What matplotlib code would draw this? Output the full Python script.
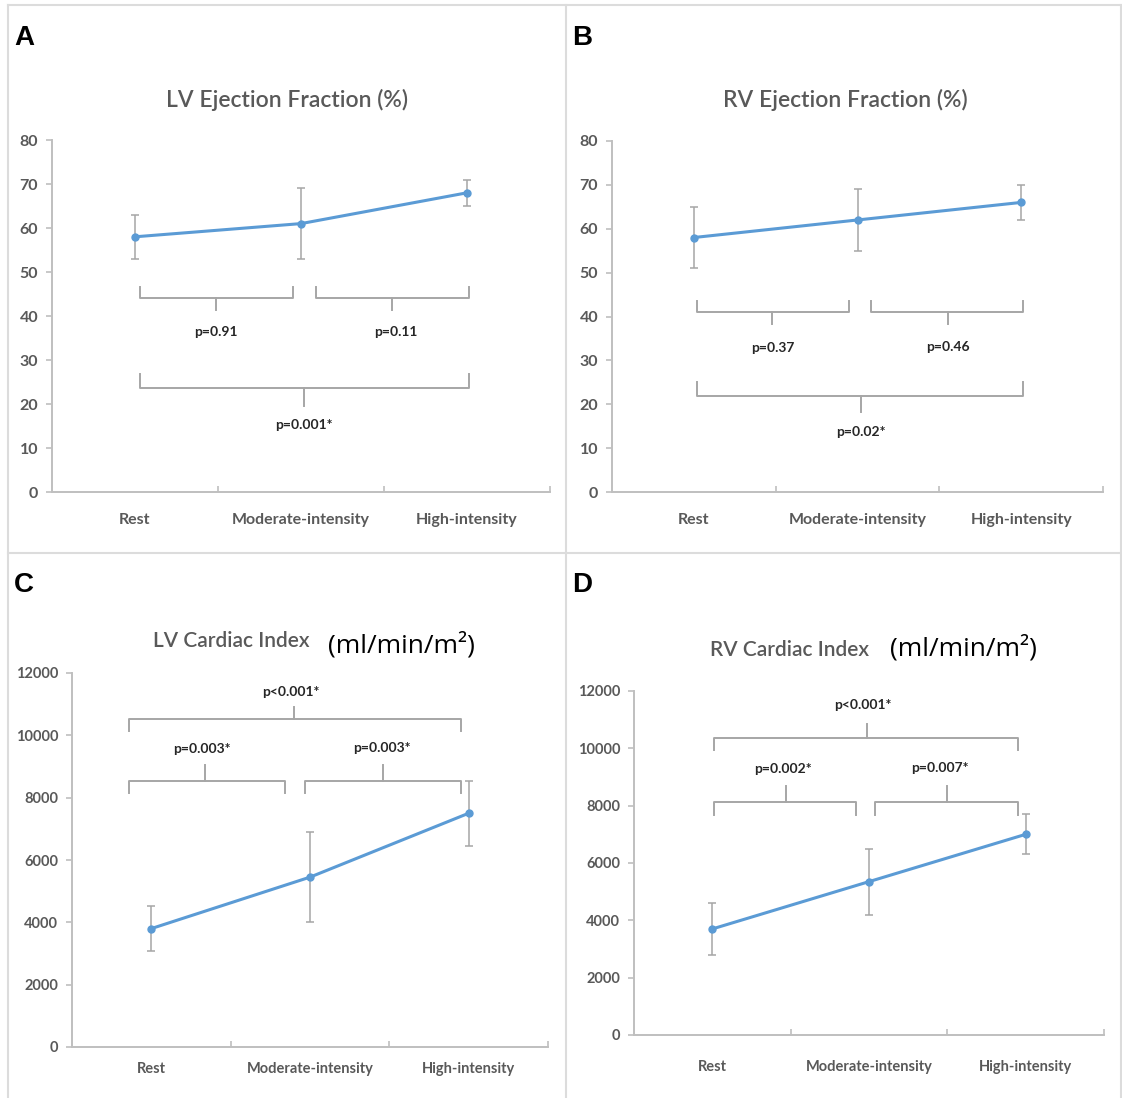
import matplotlib
matplotlib.use("Agg")
import matplotlib.pyplot as plt
from matplotlib import font_manager
from matplotlib.lines import Line2D

# font like Calibri: narrow if available, else Lato
names = set(f.name for f in font_manager.fontManager.ttflist)
GRAY_FONT = "Liberation Sans Narrow" if "Liberation Sans Narrow" in names else "Lato"

W, H = 1122, 1098

categories = ["Rest", "Moderate-intensity", "High-intensity"]

lv_ef = [58, 61, 68]
lv_ef_sd = [5, 8, 3]
rv_ef = [58, 62, 66]
rv_ef_sd = [7, 7, 4]
lv_ci = [3800, 5450, 7500]
lv_ci_sd = [720, 1450, 1050]
rv_ci = [3700, 5350, 7000]
rv_ci_sd = [900, 1150, 700]

# brackets: x0, x1, stem x, arm end y, line y, stem end y, label, label x, label y
lv_ef_brackets = [
    (0.53, 1.45, 0.99, 46.6, 44.2, 41.3, "p=0.91", 0.99, 36.3),
    (1.59, 2.51, 2.05, 46.6, 44.2, 41.3, "p=0.11", 2.07, 36.3),
    (0.53, 2.51, 1.52, 26.8, 23.6, 19.6, "p=0.001*", 1.52, 15.3),
]
rv_ef_brackets = [
    (0.52, 1.45, 0.98, 43.5, 41.0, 38.3, "p=0.37", 0.98, 32.8),
    (1.58, 2.51, 2.05, 43.5, 41.0, 38.3, "p=0.46", 2.05, 33.0),
    (0.52, 2.51, 1.52, 25.0, 21.8, 18.2, "p=0.02*", 1.52, 13.6),
]
lv_ci_brackets = [
    (0.36, 2.45, 1.40, 10150, 10540, 10920, "p<0.001*", 1.38, 11400),
    (0.36, 1.34, 0.84, 8140, 8520, 9040, "p=0.003*", 0.82, 9570),
    (1.47, 2.45, 1.96, 8140, 8520, 9040, "p=0.003*", 1.95, 9600),
]
rv_ci_brackets = [
    (0.51, 2.45, 1.49, 9940, 10370, 10860, "p<0.001*", 1.46, 11500),
    (0.51, 1.42, 0.97, 7660, 8140, 8680, "p=0.002*", 0.95, 9280),
    (1.54, 2.45, 2.00, 7660, 8140, 8680, "p=0.007*", 1.95, 9300),
]

# panels in pixel boxes: left, right, top, bottom of the plot area
panels = [
    dict(box=(52, 550, 140, 492), vals=lv_ef, sd=lv_ef_sd, ymax=80, step=10,
         brackets=lv_ef_brackets, letter="A", letter_xy=(14, 38),
         title="LV Ejection Fraction (%)", title_xy=(287, 100), title_size=16.5,
         unit_xy=None, tick_size=11.5, cat_pad=15),
    dict(box=(612, 1103, 141, 492), vals=rv_ef, sd=rv_ef_sd, ymax=80, step=10,
         brackets=rv_ef_brackets, letter="B", letter_xy=(572, 38),
         title="RV Ejection Fraction (%)", title_xy=(845, 100), title_size=16.5,
         unit_xy=None, tick_size=11.5, cat_pad=15),
    dict(box=(72, 548, 673, 1047), vals=lv_ci, sd=lv_ci_sd, ymax=12000, step=2000,
         brackets=lv_ci_brackets, letter="C", letter_xy=(14, 585),
         title="LV Cardiac Index", title_xy=(231, 641), title_size=15,
         unit_xy=(401, 645), tick_size=10.5, cat_pad=11),
    dict(box=(634, 1104, 691, 1035), vals=rv_ci, sd=rv_ci_sd, ymax=12000, step=2000,
         brackets=rv_ci_brackets, letter="D", letter_xy=(572, 585),
         title="RV Cardiac Index", title_xy=(790, 650), title_size=15,
         unit_xy=(963, 648), tick_size=10.5, cat_pad=18),
]

AXIS_COL = "#bfbfbf"
TEXT_COL = "#595959"
LINE_COL = "#5b9bd5"


def fx(x):
    return x / W


def fy(y):
    return 1 - y / H


fig = plt.figure(figsize=(W / 100, H / 100), dpi=100)
fig.patch.set_facecolor("white")

# panel frame lines
frame = [
    ((8, 1121), (5, 5)),
    ((8, 8), (5, 1098)),
    ((566, 566), (5, 1098)),
    ((1121, 1121), (5, 1098)),
    ((8, 1121), (553, 553)),
]
for xs, ys in frame:
    fig.add_artist(Line2D([fx(xs[0]), fx(xs[1])], [fy(ys[0]), fy(ys[1])],
                          color="#dcdcdc", lw=1.5, transform=fig.transFigure))

for p in panels:
    l, r, t, b = p["box"]
    ax = fig.add_axes([fx(l), fy(b), (r - l) / W, (b - t) / H])
    xs = [i + 0.5 for i in range(len(categories))]
    ax.errorbar(xs, p["vals"], yerr=p["sd"], color=LINE_COL, lw=2.2,
                marker="o", ms=5, ecolor="#a6a6a6", elinewidth=1.1,
                capsize=3, capthick=1.1, zorder=3)
    ax.set_xlim(0, 3)
    ax.set_ylim(0, p["ymax"])
    ax.set_yticks(range(0, p["ymax"] + 1, p["step"]))
    ax.set_xticks([1, 2, 3])
    ax.set_xticklabels([])
    ax.set_xticks(xs, minor=True)
    ax.set_xticklabels(categories, minor=True)
    ax.tick_params(axis="x", which="major", direction="in", length=4,
                   color=AXIS_COL, width=1.2)
    ax.tick_params(axis="x", which="minor", length=0, pad=p["cat_pad"])
    ax.tick_params(axis="y", direction="out", length=4, color=AXIS_COL,
                   width=1.2, pad=6)
    for lab in ax.get_xticklabels(minor=True) + ax.get_yticklabels():
        lab.set_fontfamily(GRAY_FONT)
        lab.set_color(TEXT_COL)
        lab.set_fontsize(p["tick_size"])
        lab.set_fontweight("bold")
    for s in ["top", "right"]:
        ax.spines[s].set_visible(False)
    for s in ["left", "bottom"]:
        ax.spines[s].set_color(AXIS_COL)
        ax.spines[s].set_linewidth(1.4)

    for x0, x1, xm, ya, yl, ys, txt, tx, ty in p["brackets"]:
        ax.plot([x0, x0, x1, x1], [ya, yl, yl, ya], color="#a6a6a6", lw=1.4,
                solid_joinstyle="round", clip_on=False)
        ax.plot([xm, xm], [yl, ys], color="#a6a6a6", lw=1.4, clip_on=False)
        ax.text(tx, ty, txt, ha="center", va="center", fontsize=10,
                fontweight="bold", color="#262626", family=GRAY_FONT)

    fig.text(fx(p["letter_xy"][0]), fy(p["letter_xy"][1]), p["letter"],
             ha="left", va="center", fontsize=20, fontweight="bold",
             color="black", family="Liberation Sans")
    fig.text(fx(p["title_xy"][0]), fy(p["title_xy"][1]), p["title"],
             ha="center", va="center", fontsize=p["title_size"], color=TEXT_COL,
             family=GRAY_FONT, fontweight="semibold")
    if p["unit_xy"] is not None:
        fig.text(fx(p["unit_xy"][0]), fy(p["unit_xy"][1]), "(ml/min/m²)",
                 ha="center", va="center", fontsize=19, color="black",
                 family="Open Sans")

fig.savefig("out.png", dpi=100)
